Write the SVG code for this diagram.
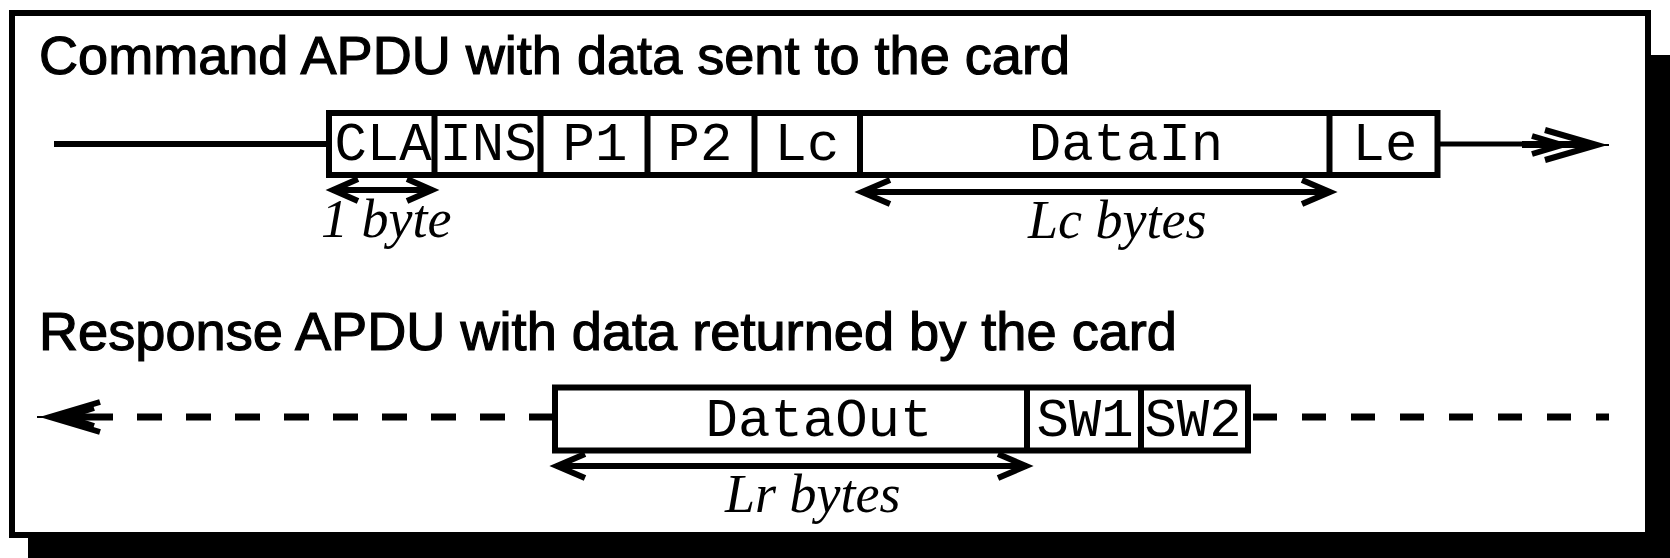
<svg xmlns="http://www.w3.org/2000/svg" width="1670" height="558" viewBox="0 0 1670 558">
<style>
.title{font-family:"Liberation Sans",Arial,sans-serif;font-size:54px;fill:#000;stroke:#000;stroke-width:1.2}
.mono{font-family:"Liberation Mono","Courier New",monospace;font-size:54px;fill:#000;text-anchor:middle}
.ital{font-family:"Liberation Serif","Times New Roman",serif;font-style:italic;font-size:54px;fill:#000}
.box{fill:#fff;stroke:#000;stroke-width:6}
.div{stroke:#000;stroke-width:6}
.ln{stroke:#000;stroke-width:6;fill:none}
.head{stroke:#000;stroke-width:6;fill:none;stroke-linejoin:miter;stroke-linecap:butt}
</style>
<g id="frame">
<rect x="28" y="55" width="1642" height="503" fill="#000"/>
<rect x="12" y="13" width="1636" height="522" fill="#fff" stroke="#000" stroke-width="6"/>
</g>
<g id="titles">
<text class="title" x="39" y="74" textLength="1031" lengthAdjust="spacingAndGlyphs">Command APDU with data sent to the card</text>
<text class="title" x="39" y="350" textLength="1138" lengthAdjust="spacingAndGlyphs">Response APDU with data returned by the card</text>
</g>
<g id="connectors">
<line class="ln" x1="54" y1="144" x2="329" y2="144"/>
<line x1="1440" y1="144" x2="1522" y2="144" stroke="#000" stroke-width="5"/>
<line x1="1522" y1="144.5" x2="1590" y2="144.5" stroke="#000" stroke-width="7"/>
<line x1="1590" y1="145" x2="1609" y2="145" stroke="#000" stroke-width="2"/>
<path class="head" d="M1545,130 L1597,145 L1545,160" stroke-width="7"/>
<path class="head" d="M1532,136 L1562,145 L1532,154" stroke-width="5"/>
<line x1="88" y1="417" x2="552" y2="417" stroke="#000" stroke-width="7" stroke-dasharray="25 24"/>
<line x1="1253" y1="417" x2="1609" y2="417" stroke="#000" stroke-width="7" stroke-dasharray="24 25"/>
<line x1="60" y1="417" x2="88" y2="417" stroke="#000" stroke-width="7"/>
<line x1="37" y1="417" x2="60" y2="417" stroke="#000" stroke-width="2"/>
<path class="head" d="M100,402 L50,417 L100,432" stroke-width="7"/>
<path class="head" d="M94,408 L66,417 L94,426" stroke-width="5"/>
<line class="ln" x1="334" y1="190" x2="431" y2="190"/>
<path class="head" d="M358,179 L333,190 L358,201"/>
<path class="head" d="M407,179 L432,190 L407,201"/>
<line class="ln" x1="864" y1="192" x2="1328" y2="192"/>
<path class="head" d="M890,180 L862,192 L890,204"/>
<path class="head" d="M1302,180 L1330,192 L1302,204"/>
<line class="ln" x1="559" y1="466" x2="1024" y2="466"/>
<path class="head" d="M585,454 L557,466 L585,478"/>
<path class="head" d="M998,454 L1026,466 L998,478"/>
</g>
<g id="command-apdu">
<rect class="box" x="329" y="113" width="1108.5" height="62"/>
<line class="div" x1="434.5" y1="113" x2="434.5" y2="175"/>
<line class="div" x1="540.5" y1="113" x2="540.5" y2="175"/>
<line class="div" x1="647.5" y1="113" x2="647.5" y2="175"/>
<line class="div" x1="754.5" y1="113" x2="754.5" y2="175"/>
<line class="div" x1="860" y1="113" x2="860" y2="175"/>
<line class="div" x1="1329.5" y1="113" x2="1329.5" y2="175"/>
<text class="mono" x="383" y="160">CLA</text>
<text class="mono" x="488" y="160">INS</text>
<text class="mono" x="595" y="160">P1</text>
<text class="mono" x="700" y="160">P2</text>
<text class="mono" x="807" y="160">Lc</text>
<text class="mono" x="1126" y="160">DataIn</text>
<text class="mono" x="1385" y="160">Le</text>
</g>
<g id="response-apdu">
<rect class="box" x="555" y="387.5" width="693" height="63"/>
<line class="div" x1="1027" y1="387.5" x2="1027" y2="450.5"/>
<line class="div" x1="1141" y1="387.5" x2="1141" y2="450.5"/>
<text class="mono" x="819" y="436">DataOut</text>
<text class="mono" x="1085" y="436">SW1</text>
<text class="mono" x="1193" y="436">SW2</text>
</g>
<g id="labels">
<text class="ital" x="321" y="237">1 byte</text>
<text class="ital" x="1028" y="238">Lc bytes</text>
<text class="ital" x="725" y="512">Lr bytes</text>
</g>
</svg>
